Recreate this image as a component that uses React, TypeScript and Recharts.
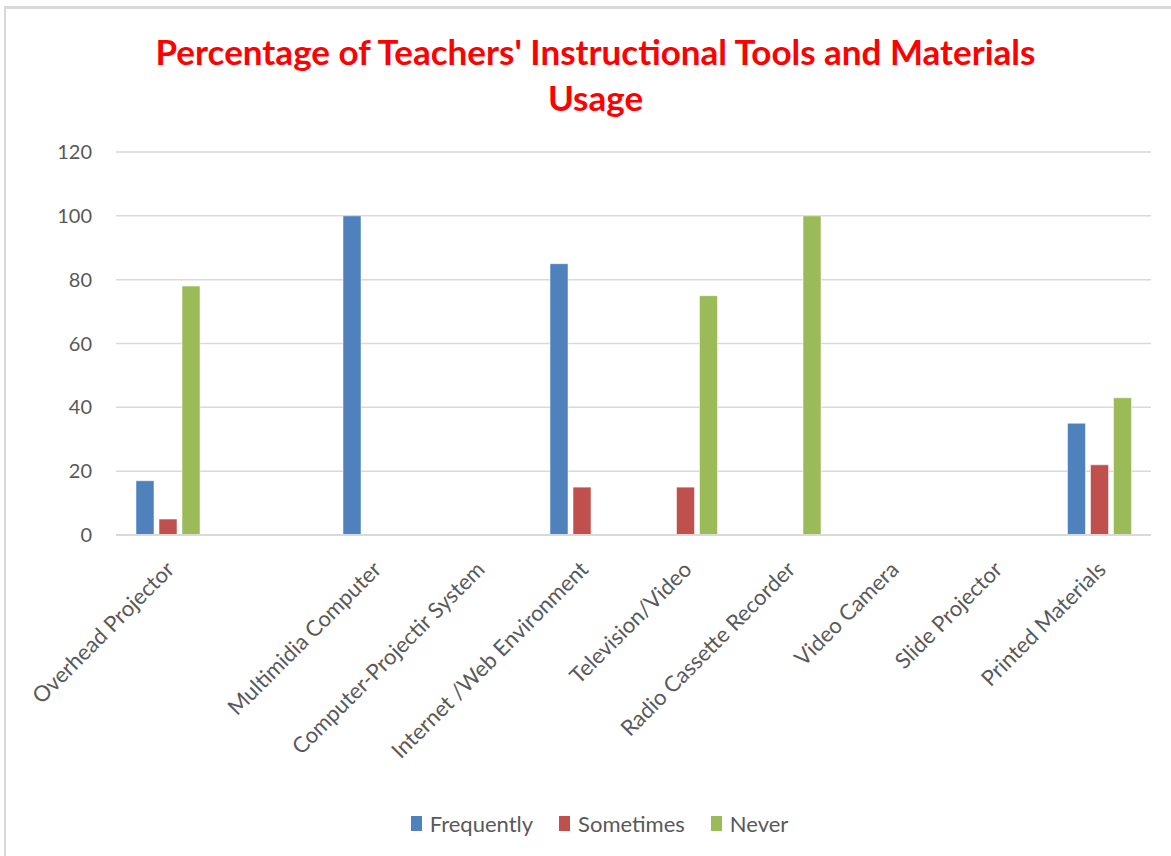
import React from "react";
import { BarChart, Bar, XAxis, YAxis, CartesianGrid, Legend } from "recharts";

// the source chart has one unlabelled, empty category after the first one
const categories = [
  "Overhead Projector",
  "",
  "Multimidia Computer",
  "Computer-Projectir System",
  "Internet /Web Environment",
  "Television/Video",
  "Radio Cassette Recorder",
  "Video Camera",
  "Slide Projector",
  "Printed Materials",
];
const frequently = [17, 0, 100, 0, 85, 0, 0, 0, 0, 35];
const sometimes = [5, 0, 0, 0, 15, 15, 0, 0, 0, 22];
const never = [78, 0, 0, 0, 0, 75, 100, 0, 0, 43];
const yTicks = [0, 20, 40, 60, 80, 100, 120];

const SERIES = [
  { key: "Frequently", color: "#4F81BD" },
  { key: "Sometimes", color: "#C0504D" },
  { key: "Never", color: "#9BBB59" },
];

const data = categories.map((name, i) => ({
  name,
  Frequently: frequently[i],
  Sometimes: sometimes[i],
  Never: never[i],
}));

const FONT = "Lato, 'Open Sans', sans-serif";

const CategoryTick = ({ x, y, payload }: any) => (
  <g transform={`translate(${x - 3},${y + 17})`}>
    <text
      transform="rotate(-45)"
      textAnchor="end"
      dy="0.7em"
      fill="#595959"
      fontSize={22}
      fontFamily={FONT}
    >
      {payload.value}
    </text>
  </g>
);

const renderLegend = () => (
  <div style={{ display: "flex", justifyContent: "center", fontFamily: FONT, fontSize: 22, color: "#595959" }}>
    {SERIES.map((s) => (
      <div key={s.key} style={{ display: "flex", alignItems: "center", margin: "0 13px" }}>
        <span style={{ display: "inline-block", width: 11, height: 15, background: s.color, marginRight: 8 }} />
        {s.key}
      </div>
    ))}
  </div>
);

export default function App() {
  return (
    <div style={{ position: "absolute", left: 0, top: 0, width: 1171, height: 856, overflow: "hidden", background: "#fff" }}>
      <div
        style={{
          position: "absolute",
          left: 4,
          top: 6,
          width: 1300,
          height: 1000,
          borderLeft: "2px solid #d9d9d9",
          borderTop: "3px solid #d9d9d9",
        }}
      />
      <div
        style={{
          position: "absolute",
          left: 10,
          top: 28,
          width: 1171,
          textAlign: "center",
          color: "#FF0000",
          fontFamily: FONT,
          fontWeight: "bold",
          fontSize: 35,
          lineHeight: "46px",
        }}
      >
        Percentage of Teachers' Instructional Tools and Materials
        <br />
        Usage
      </div>
      <div style={{ position: "absolute", left: 0, top: 0 }}>
        <BarChart
          width={1171}
          height={856}
          data={data}
          margin={{ top: 152, right: 20, bottom: 71, left: 56 }}
          barCategoryGap={20}
          barGap={5}
        >
          <CartesianGrid vertical={false} stroke="#d9d9d9" strokeWidth={1.5} />
          <XAxis
            dataKey="name"
            interval={0}
            height={250}
            tick={<CategoryTick />}
            tickLine={false}
            axisLine={{ stroke: "#d9d9d9", strokeWidth: 2 }}
          />
          <YAxis
            width={60}
            domain={[0, 120]}
            ticks={yTicks}
            tickLine={false}
            axisLine={false}
            tickMargin={18}
            tick={{ fill: "#595959", fontSize: 20, fontFamily: FONT }}
          />
          <Legend
            verticalAlign="middle"
            align="center"
            content={renderLegend}
            wrapperStyle={{ top: 810, left: 14, width: 1171 }}
          />
          {SERIES.map((s) => (
            <Bar
              key={s.key}
              dataKey={s.key}
              fill={s.color}
              stroke="#ffffff"
              strokeOpacity={0.5}
              strokeWidth={1}
              isAnimationActive={false}
            />
          ))}
        </BarChart>
      </div>
    </div>
  );
}
